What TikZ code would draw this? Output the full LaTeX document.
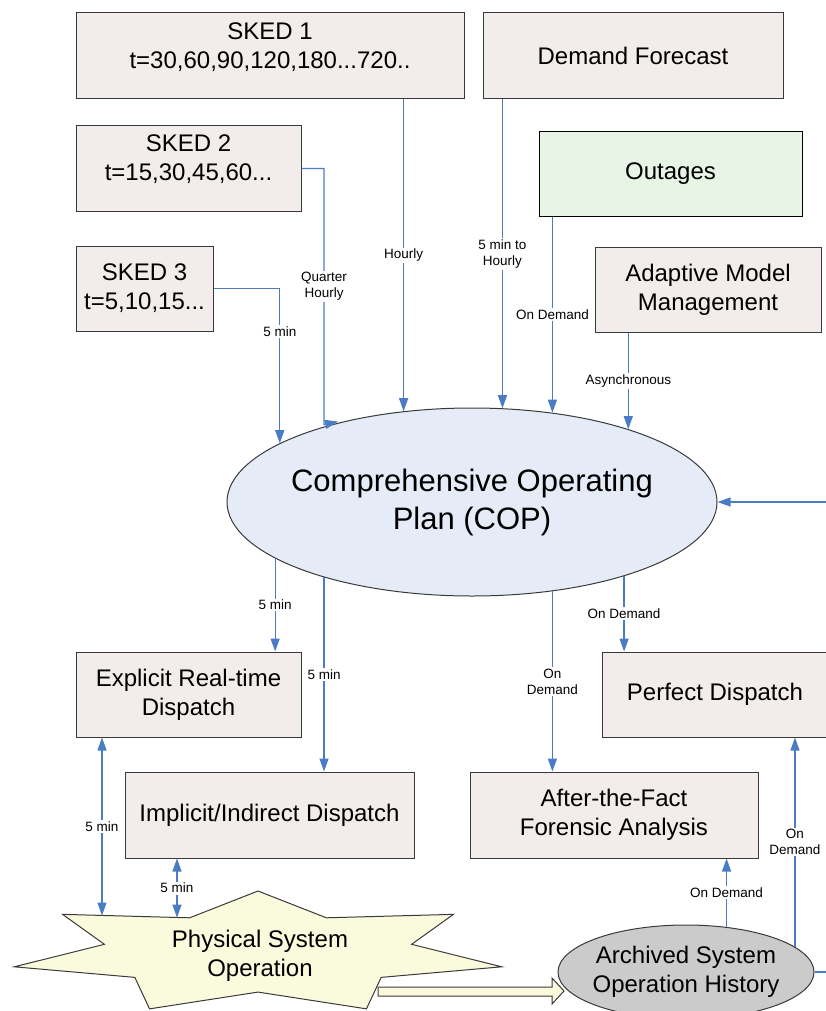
\documentclass[tikz,border=0pt]{standalone}
\usepackage{fontspec}
\setmainfont{Liberation Sans}
\usetikzlibrary{arrows.meta,shapes.geometric}
\definecolor{boxfill}{HTML}{F2EDEA}
\definecolor{boxline}{HTML}{3A3A3A}
\definecolor{outagefill}{HTML}{E8F5E6}
\definecolor{copfill}{HTML}{E5ECF7}
\definecolor{archfill}{HTML}{CBCBCB}
\definecolor{starfill}{HTML}{FAFADC}
\definecolor{linkblue}{HTML}{4A7CC6}
\tikzset{
    box/.style={draw=boxline, fill=boxfill, line width=1pt, inner sep=0pt, align=center, font=\fontsize{24}{29}\selectfont},
    oval/.style={ellipse, draw=boxline, line width=1pt, inner sep=0pt},
    bigtext/.style={align=center, font=\fontsize{24}{29}\selectfont},
    link/.style={draw=linkblue, line width=1.2pt, -{Triangle[length=13pt,width=9pt]}},
    twoway/.style={link, {Triangle[length=13pt,width=9pt]}-{Triangle[length=13pt,width=9pt]}},
    lbl/.style={fill=white, inner sep=1.5pt, align=center, font=\fontsize{13.5}{16}\selectfont}
}
\begin{document}
\begin{tikzpicture}[x=1pt,y=-1pt]
        \useasboundingbox (0,0) rectangle (826,1011);
        \node[box, minimum width=388pt, minimum height=86pt] (sked1) at (270,56) {};
        \node[bigtext] (sked1txt) at (270,47) {SKED 1\\t=30,60,90,120,180...720..};
        \node[box, minimum width=225pt, minimum height=85pt] (sked2) at (188.5,168.5) {};
        \node[bigtext] (sked2txt) at (188.5,159) {SKED 2\\t=15,30,45,60...};
        \node[box, minimum width=137pt, minimum height=85pt] (sked3) at (144.5,288.5) {SKED 3\\t=5,10,15...};
        \node[box, minimum width=300pt, minimum height=86pt] (demand) at (633,56) {Demand Forecast};
        \node[box, draw=black, fill=outagefill, minimum width=263pt, minimum height=84pt] (outages) at (670.5,174) {Outages};
        \node[box, minimum width=226pt, minimum height=85pt] (amm) at (708,289.5) {Adaptive Model\\Management};
        \node[oval, fill=copfill, minimum width=490pt, minimum height=188pt] (cop) at (472,502) {};
        \node[align=center, font=\fontsize{31}{38}\selectfont] (coptxt) at (cop) {Comprehensive Operating\\Plan (COP)};
        \draw[link] (sked1.south -| cop.127) -- node[lbl]{Hourly} (cop.127);
        \draw[link] (sked2.east) -| node[lbl, pos=0.73]{Quarter\\Hourly} ([yshift=2pt]cop.153) -- ++(14,-3);
        \draw[link] (sked3.east) -| node[lbl, pos=0.64]{5 min} (cop.163);
        \draw[link] (demand.south -| cop.72) -- node[lbl]{5 min to\\Hourly} (cop.72);
        \draw[link] (outages.south -| cop.48) -- node[lbl]{On Demand} (cop.48);
        \draw[link] (amm.south -| cop.25) -- node[lbl]{Asynchronous} (cop.25);
        \node[box, minimum width=225pt, minimum height=85pt] (explicit) at (188.5,694.5) {Explicit Real-time\\Dispatch};
        \node[box, minimum width=289pt, minimum height=86pt] (implicit) at (269.5,815) {Implicit/Indirect Dispatch};
        \node[box, minimum width=226pt, minimum height=85pt] (perfect) at (715,694.5) {Perfect Dispatch};
        \node[box, minimum width=288pt, minimum height=86pt] (after) at (614,815) {After-the-Fact\\Forensic Analysis};
        \draw[link] (cop.196) -- node[lbl]{5 min} (cop.196 |- explicit.north);
        \draw[link] (cop.207) -- node[lbl]{5 min} (cop.207 |- implicit.north);
        \draw[link] (cop.312) -- node[lbl]{On\\Demand} (cop.312 |- after.north);
        \draw[link] (cop.334) -- node[lbl]{On Demand} (cop.334 |- perfect.north);
        \draw[draw=boxline, fill=starfill, line width=1pt] (378,987) -- (552,987) -- (552,978) -- (564,991) -- (552,1004) -- (552,996) -- (378,996) -- cycle;
        \node[star, star points=7, star point ratio=1.587, minimum size=124pt, inner sep=0pt, xscale=4.032, transform shape, draw=boxline, fill=starfill, line width=1pt] (pso) at (258,953) {};
        \node[bigtext] (psotxt) at (260,956) {Physical System\\Operation};
        \node[oval, fill=archfill, minimum width=256pt, minimum height=94pt] (archived) at (686,972) {};
        \node[bigtext] (archtxt) at (686,972) {Archived System\\Operation History};
        \coordinate (psoA) at (102,915.5);
        \coordinate (psoB) at (177,917.6);
        \draw[twoway] (explicit.south -| psoA) -- node[lbl]{5 min} (psoA);
        \draw[twoway] (implicit.south -| psoB) -- node[lbl]{5 min} (psoB);
        \draw[link] (archived.48) -- node[lbl]{On Demand} (archived.48 |- after.south);
        \draw[link] (archived.13) -- node[lbl]{On\\Demand} (archived.13 |- perfect.south);
        \coordinate (rim) at (850,502);
        \draw[link] (archived.east) -| (rim) -- (cop.east);
\end{tikzpicture}
\end{document}
